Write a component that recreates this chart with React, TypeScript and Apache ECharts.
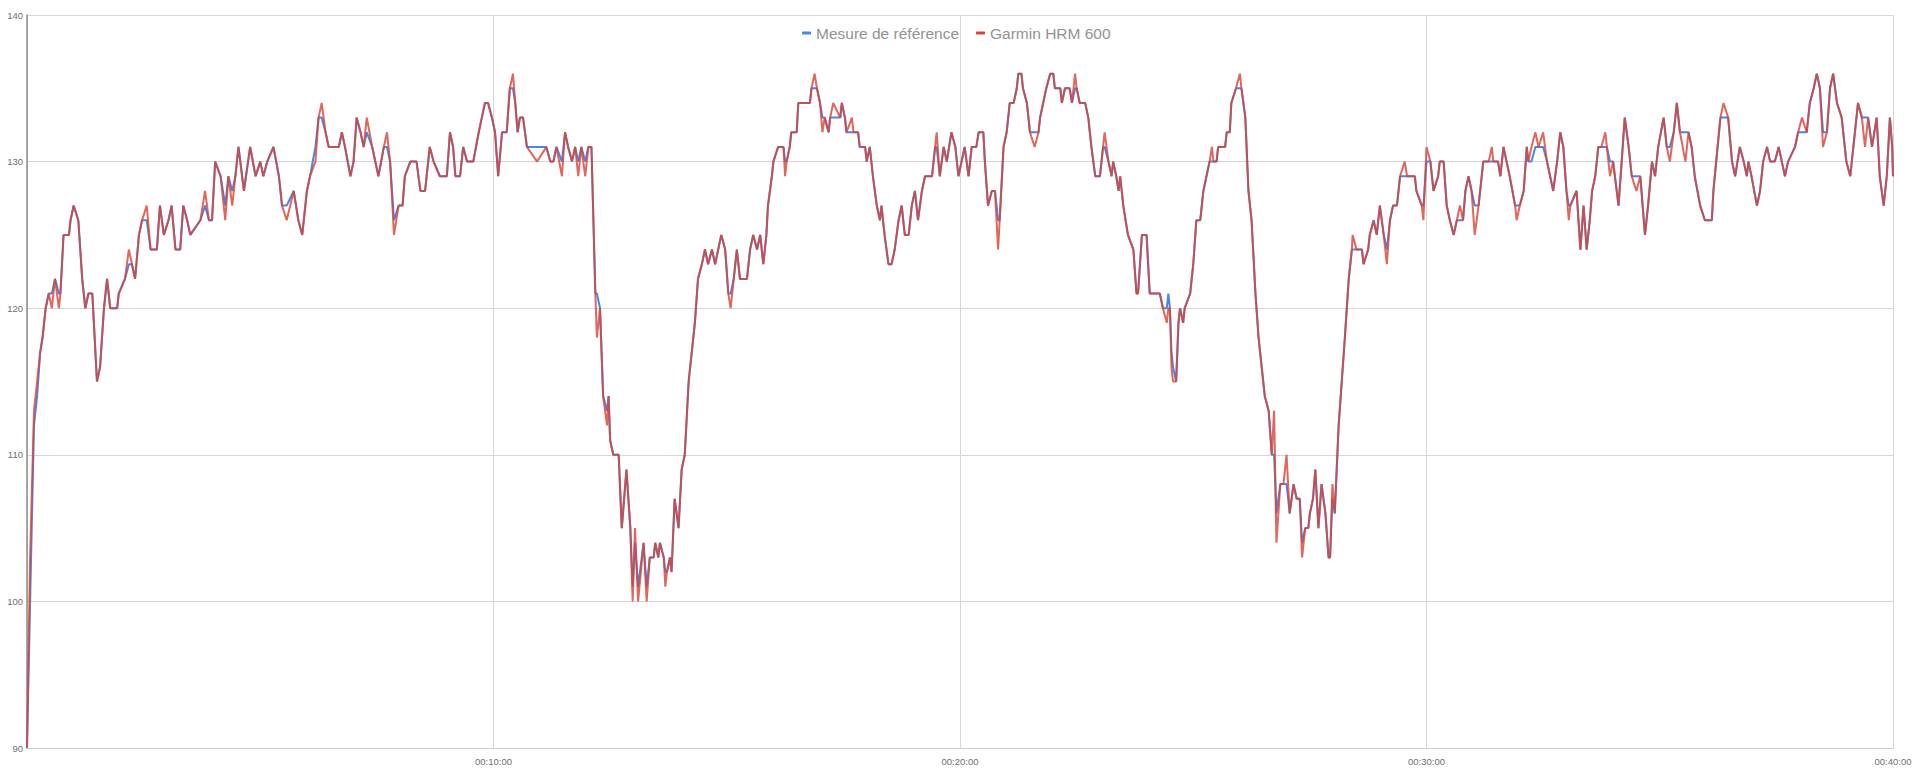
import React, { useEffect, useRef } from "react";
import * as echarts from "echarts";

// Time of each sample, in seconds from the start
const times = [
  0,4,9,13,17,20,24,28,32,36,41,43,47,54,56,60,66,71,75,79,
  84,90,94,99,103,107,116,118,126,131,135,139,144,148,154,159,167,171,176,182,
  186,191,197,201,206,210,223,229,234,238,242,249,255,259,264,268,272,279,287,294,
  300,304,309,317,324,328,334,343,349,354,360,364,371,375,379,384,388,401,405,409,
  416,420,424,429,433,437,444,452,459,463,467,472,478,
  483,486,493,501,506,512,514,518,523,531,540,544,548,551,557,561,566,574,581,585,
  589,593,598,602,606,611,617,621,625,628,631,634,638,643,656,668,673,677,681,688,
  692,696,701,705,709,713,718,722,726,728,731,733,737,741,746,748,750,754,761,765,
  771,776,779,782,786,793,797,801,806,808,812,814,819,821,823,827,829,833,838,842,
  846,851,855,859,863,868,872,876,881,885,889,893,898,902,905,909,913,917,926,930,
  934,939,943,947,951,953,958,960,
  966,973,975,977,981,983,990,992,1007,1009,1013,1016,1020,1023,1026,1031,1033,1037,1046,1048,
  1052,1054,1061,1063,1069,1071,1078,1080,1084,1086,1088,1093,1097,1099,1103,1108,1112,1116,1121,1125,
  1129,1134,1138,1142,1146,1151,1155,1164,1168,1170,1174,1179,1183,1189,1194,1198,1202,1206,1211,1215,
  1221,1224,1230,1232,1236,1241,1245,1249,1251,1256,1260,1264,1269,1273,1275,1279,1281,1286,1290,1296,
  1301,1303,1307,1311,1316,1320,1322,1329,1331,1335,1341,1344,1348,1350,1354,1361,1365,1369,1374,1380,
  1384,1386,1391,1395,1397,1401,1404,1406,1410,1416,1423,1427,1429,1434,1440,1444,1449,1457,1461,1466,
  1468,
  1470,1472,1474,1478,1481,1483,1487,1489,1496,1500,1504,1509,1511,1513,1517,1521,1524,1526,1530,1532,
  1541,1543,1547,1549,1555,1560,1562,1567,1571,1575,1580,1584,1588,1592,1597,1601,1604,1607,1612,1616,
  1620,1624,1629,1633,1637,1640,1644,1648,1650,1654,1657,1661,1665,1670,1674,1676,1679,1682,1687,1691,
  1695,1700,1704,1705,1710,1717,1719,1725,1727,1732,1736,1740,1745,1749,1753,1757,1762,1766,1772,1775,
  1785,1787,1794,1796,1800,1805,1809,1815,1817,1822,1826,1830,1835,1839,1843,1847,1850,1854,1858,1862,
  1867,1871,1873,1880,1884,1886,1892,1895,1899,1903,1907,1914,1916,1920,1925,1929,1931,1935,1940,
  1944,1950,1955,1959,1963,1968,1972,1976,1980,1983,1985,1993,1998,2002,2006,2010,2013,2017,2021,2025,
  2030,2032,2036,2040,2047,2051,2055,2060,2064,2070,2075,2081,2085,2090,2094,2098,2105,2109,2113,2118,
  2122,2126,2133,2137,2141,2145,2152,2158,2167,2169,2178,2182,2188,2193,2197,2203,2208,2212,2214,2218,
  2225,2229,2233,2238,2242,2248,2253,2257,2261,2265,2274,2278,2283,2289,2293,2298,2302,2306,2310,2315,
  2319,2323,2328,2334,2340,2345,2351,2355,2360,2364,2368,2373,2379,2383,2388,2392,2396,2399,2400,
];

// "Mesure de référence" heart rate (bpm)
const reference = [
  90,100,112,114,117,118,120,121,121,122,121,121,125,125,126,127,126,122,120,121,
  121,115,116,120,122,120,120,121,122,123,123,122,125,126,126,124,124,127,125,126,
  127,124,124,127,126,125,126,127,126,126,130,129,127,129,128,129,131,128,131,129,
  130,129,130,131,129,127,127,128,126,125,128,129,131,133,133,132,131,131,132,131,
  129,130,133,132,131,132,131,129,131,131,130,126,127,
  127,129,130,130,128,128,129,131,130,129,129,132,131,129,129,131,130,130,132,133,
  134,134,133,132,129,132,132,135,135,134,132,133,133,131,131,131,130,130,131,130,
  132,131,130,131,130,131,130,131,131,127,121,121,120,114,113,114,111,110,110,105,
  109,105,101,104,101,104,101,103,103,104,103,104,103,102,102,103,102,107,105,109,
  110,115,117,119,122,123,124,123,124,123,124,125,124,121,121,122,124,122,122,124,
  125,124,125,123,125,127,129,130,
  131,131,130,130,131,132,132,134,134,135,135,135,134,133,133,132,133,133,133,134,
  133,132,132,132,132,131,131,130,131,130,129,127,126,127,125,123,123,124,126,127,
  125,125,127,128,126,128,129,129,131,131,129,131,130,132,131,129,130,131,129,131,
  131,132,132,130,127,128,128,126,126,131,132,134,134,135,136,136,135,134,132,132,
  132,133,134,135,136,136,135,135,134,135,135,134,135,135,134,134,133,131,129,129,
  131,131,130,129,130,129,128,129,127,125,124,121,121,125,125,121,121,121,120,120,
  121,
  120,117,116,115,119,120,119,120,121,123,126,126,127,128,129,130,130,130,130,131,
  131,132,132,134,135,135,135,133,128,126,121,118,116,114,113,110,110,106,108,108,
  108,106,108,107,107,104,105,105,106,107,109,105,108,106,103,103,107,106,112,115,
  118,122,124,124,124,124,123,124,125,126,125,127,125,124,126,127,127,129,129,129,
  129,128,127,127,130,130,128,129,130,130,127,126,125,126,126,126,128,129,128,127,
  127,129,130,130,130,130,130,129,131,130,129,127,127,127,128,131,130,130,131,
  131,131,130,129,128,130,132,131,128,127,127,128,124,127,124,126,128,129,131,131,
  131,131,130,130,127,130,133,131,129,129,129,125,127,130,129,131,133,131,131,132,
  134,132,132,132,131,129,127,126,126,128,133,133,133,130,129,131,130,129,130,129,
  127,128,130,131,130,130,131,130,129,130,131,132,132,132,134,135,136,135,132,132,
  135,136,134,133,130,129,132,134,133,133,133,131,133,129,127,129,133,131,129,
];

// "Garmin HRM 600" heart rate (bpm)
const garmin = [
  90,103,113,115,117,118,120,121,120,122,120,121,125,125,126,127,126,122,120,121,
  121,115,116,120,122,120,120,121,122,124,123,122,125,126,127,124,124,127,125,126,
  127,124,124,127,126,125,126,128,126,126,130,129,126,129,127,129,131,128,131,129,
  130,129,130,131,129,127,126,128,126,125,128,129,130,133,134,132,131,131,132,131,
  129,130,133,132,131,133,131,129,131,132,130,125,127,
  127,129,130,130,128,128,129,131,130,129,129,132,131,129,129,131,130,130,132,133,
  134,134,133,132,129,132,132,135,136,134,132,133,133,131,130,131,130,130,131,129,
  132,131,130,131,129,131,129,131,131,127,121,118,120,114,112,114,111,110,110,105,
  109,105,100,105,100,104,100,103,103,104,103,104,103,101,102,103,102,107,105,109,
  110,115,117,119,122,123,124,123,124,123,124,125,124,121,120,122,124,122,122,124,
  125,124,125,123,125,127,129,130,
  131,131,129,130,131,132,132,134,134,135,136,135,134,132,133,132,133,134,133,134,
  133,132,133,132,132,131,131,130,131,130,129,127,126,127,125,123,123,124,126,127,
  125,125,127,128,126,128,129,129,131,132,129,131,130,132,131,129,130,131,129,131,
  131,132,132,130,127,128,128,124,126,131,132,134,134,135,136,136,135,134,132,131,
  132,133,134,135,136,136,135,135,134,135,135,134,136,135,134,134,133,131,129,129,
  131,132,130,129,130,129,128,129,127,125,124,121,121,125,125,121,121,121,120,119,
  120,
  120,116,115,115,119,120,119,120,121,123,126,126,127,128,129,130,131,130,130,131,
  131,132,132,134,135,136,135,133,128,126,121,118,116,114,113,110,113,104,108,108,
  110,106,108,107,107,103,105,105,106,107,109,105,108,106,103,103,108,106,112,115,
  118,122,124,125,124,124,123,124,125,126,125,127,125,123,126,127,127,129,130,129,
  129,128,127,126,131,130,128,129,130,130,127,126,125,126,127,126,128,129,128,125,
  127,129,130,130,131,130,130,129,131,130,129,127,126,127,128,131,130,131,132,
  131,132,130,129,128,130,132,131,128,126,127,128,124,127,124,126,128,129,131,131,
  132,131,129,130,127,130,133,131,129,128,129,125,127,130,129,131,133,131,130,132,
  134,132,130,132,131,129,127,126,126,128,133,134,133,130,129,131,130,129,130,129,
  127,128,130,131,130,130,131,130,129,130,131,132,133,132,134,135,136,135,131,132,
  135,136,134,133,130,129,132,134,133,131,133,131,133,129,127,129,133,131,129,
];

const seriesNames = ["Mesure de référence", "Garmin HRM 600"];
const seriesColors = ["#4a86e8", "#db4437"];
const yTicks = [90, 100, 110, 120, 130, 140];
const xTickSeconds = [0, 600, 1200, 1800, 2400];

const FONT = "'Liberation Sans', Arial, sans-serif";

function fmtTime(sec: number): string {
  const h = Math.floor(sec / 3600);
  const m = Math.floor((sec % 3600) / 60);
  const s = Math.floor(sec % 60);
  const p = (n: number) => (n < 10 ? "0" + n : String(n));
  return p(h) + ":" + p(m) + ":" + p(s);
}

export default function App() {
  const ref = useRef<HTMLDivElement>(null);

  useEffect(() => {
    document.body.style.margin = "0";
    if (!ref.current) return;
    const chart = echarts.init(ref.current, undefined, { renderer: "svg" });

    const refData = times.map((t, i) => [t, reference[i]]);
    const garData = times.map((t, i) => [t, garmin[i]]);
    const xInterval = xTickSeconds[1] - xTickSeconds[0];
    const yInterval = yTicks[1] - yTicks[0];

    chart.setOption({
      animation: false,
      backgroundColor: "#ffffff",
      textStyle: { fontFamily: FONT },
      legend: {
        data: seriesNames.map((n) => ({ name: n, icon: "roundRect" })),
        left: 797,
        top: 20,
        itemWidth: 9,
        itemHeight: 3,
        itemGap: 17,
        textStyle: { fontSize: 15.5, color: "#939393", fontFamily: FONT },
      },
      grid: { left: 27, right: 27, top: 15, bottom: 24, containLabel: false },
      xAxis: {
        type: "value",
        min: xTickSeconds[0],
        max: xTickSeconds[xTickSeconds.length - 1],
        interval: xInterval,
        axisLine: { show: true, lineStyle: { color: "#cccccc", width: 1 } },
        axisTick: { show: false },
        splitLine: { show: true, lineStyle: { color: "#d6d6d6", width: 1 } },
        axisLabel: {
          fontSize: 9.5,
          color: "#6f6f6f",
          margin: 8,
          fontFamily: FONT,
          showMinLabel: false,
          formatter: (v: number) => (v === 0 ? "" : fmtTime(v)),
        },
      },
      yAxis: {
        type: "value",
        min: yTicks[0],
        max: yTicks[yTicks.length - 1],
        interval: yInterval,
        axisLine: { show: true, lineStyle: { color: "#8c8c8c", width: 1.5 } },
        axisTick: { show: false },
        splitLine: { show: true, lineStyle: { color: "#d6d6d6", width: 1 } },
        axisLabel: { fontSize: 9.5, color: "#6f6f6f", margin: 4, fontFamily: FONT },
      },
      series: [
        {
          name: seriesNames[0],
          type: "line",
          data: refData,
          showSymbol: false,
          symbol: "none",
          lineStyle: { color: seriesColors[0], width: 2 },
          itemStyle: { color: seriesColors[0] },
          z: 2,
        },
        {
          name: seriesNames[1],
          type: "line",
          data: garData,
          showSymbol: false,
          symbol: "none",
          lineStyle: { color: seriesColors[1], width: 2, opacity: 0.82 },
          itemStyle: { color: seriesColors[1] },
          z: 3,
        },
      ],
    });

    return () => chart.dispose();
  }, []);

  return <div ref={ref} style={{ width: 1920, height: 772 }} />;
}
